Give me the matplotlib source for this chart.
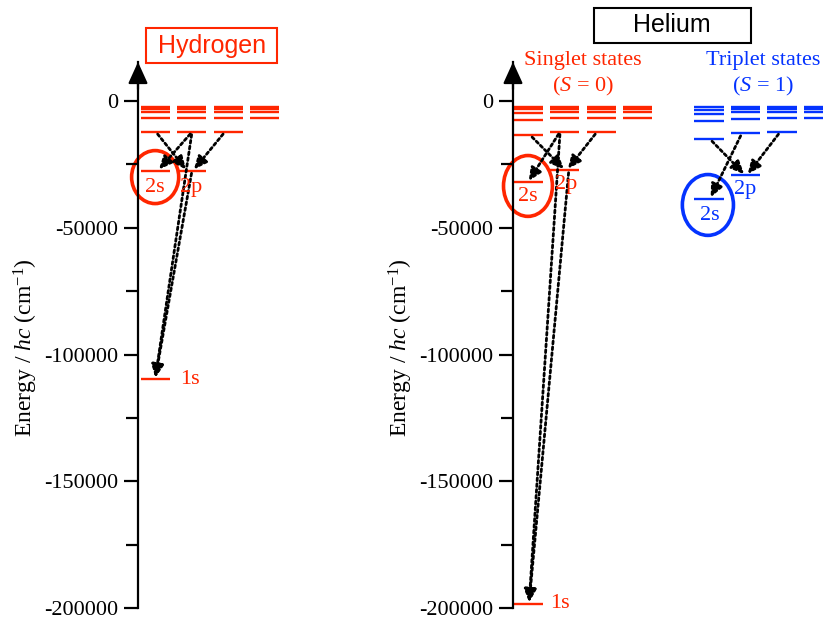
import numpy as np
import matplotlib
matplotlib.use('Agg')
import matplotlib.pyplot as plt
from matplotlib.patches import Ellipse, Rectangle

plt.rcParams['font.family'] = ['Liberation Serif', 'DejaVu Serif']
plt.rcParams['mathtext.fontset'] = 'custom'
plt.rcParams['mathtext.rm'] = 'Liberation Serif'
plt.rcParams['mathtext.it'] = 'Liberation Serif:italic'
plt.rcParams['axes.unicode_minus'] = False

RED = '#ff2600'
BLUE = '#0433ff'

# energy levels (cm^-1), one list per column s, p, d, f
h_s = [-109678, -27420, -12186, -6855, -4387, -3047, -2238]
h_p = [-27420, -12186, -6855, -4387, -3047, -2238]
h_d = [-12186, -6855, -4387, -3047, -2238]
h_f = [-6855, -4387, -3047, -2238]

sing_s = [-198311, -32033, -13446, -7370, -4647, -3196, -2328]
sing_p = [-27176, -12101, -6818, -4368, -3036, -2232]
sing_d = [-12206, -6864, -4392, -3051, -2241]
sing_f = [-6863, -4393, -3050, -2240]

trip_s = [-38455, -15074, -8013, -4964, -3375, -2442]
trip_p = [-29224, -12746, -7094, -4510, -3118, -2276]
trip_d = [-12209, -6866, -4394, -3052, -2242]
trip_f = [-6863, -4393, -3050, -2241]

yticks = [0, -50000, -100000, -150000, -200000]
ytick_labels = ['0', '-50000', '-100000', '-150000', '-200000']

W, H = 823, 619
fig = plt.figure(figsize=(W / 100, H / 100), dpi=100)

unit = 36.5  # px per column step
ylo, yhi = -200000, 15400
bottom = (H - 608) / H
height = (608 - 62) / H

axH = fig.add_axes([138 / W, bottom, 4.2 * unit / W, height])
axH.set_xlim(0, 4.2)
axHe = fig.add_axes([513 / W, bottom, (W - 513) / W, height])
axHe.set_xlim(0, (W - 513) / unit)

for ax in (axH, axHe):
    ax.set_ylim(ylo, yhi)
    for s in ['top', 'right', 'bottom']:
        ax.spines[s].set_visible(False)
    ax.spines['left'].set_linewidth(1.6)
    ax.set_xticks([])
    ax.set_yticks(yticks)
    ax.set_yticklabels(ytick_labels)
    ax.set_yticks([-25000, -75000, -125000, -175000], minor=True)
    ax.tick_params(axis='y', which='major', length=10, width=1.6, pad=4, labelsize=16)
    ax.tick_params(axis='y', which='minor', length=9, width=1.6)
    ax.patch.set_alpha(0)
    ax.annotate('', xy=(0, 1.0), xytext=(0, 0.95), xycoords='axes fraction',
                arrowprops=dict(arrowstyle='-|>,head_length=0.55,head_width=0.25',
                                color='k', lw=1.6, mutation_scale=24,
                                shrinkA=0, shrinkB=0))


def draw_levels(ax, cols, start, color):
    for k, col in enumerate(cols):
        x0 = start + k
        ax.hlines(col, x0, x0 + 0.8, colors=color, lw=1.7, clip_on=False)


def arrow(ax, x0, e0, x1, e1):
    ax.annotate('', xy=(x1, e1), xytext=(x0, e0),
                arrowprops=dict(arrowstyle='-|>,head_length=0.7,head_width=0.32',
                                linestyle=(0, (1.0, 1.1)), lw=2.0, color='k',
                                shrinkA=2, shrinkB=1, mutation_scale=11))


hs = 0.07
draw_levels(axH, [h_s, h_p, h_d, h_f], hs, RED)
arrow(axH, hs + 0.42, h_s[2], hs + 1.27, h_p[0])
arrow(axH, hs + 1.41, h_p[1], hs + 0.48, h_s[1])
arrow(axH, hs + 2.31, h_d[0], hs + 1.44, h_p[0])
arrow(axH, hs + 1.41, h_p[1], hs + 0.40, h_s[0])
arrow(axH, hs + 1.41, h_p[0], hs + 0.40, h_s[0])
axH.add_patch(Ellipse((0.47, -30000), 1.29, 20900, fill=False, ec=RED, lw=2.6, clip_on=False))
axH.annotate('2s', xy=(0.47, h_s[1]), xytext=(0, -12.5), textcoords='offset points',
             ha='center', va='center', color=RED, fontsize=16)
axH.annotate('2p', xy=(1.45, h_p[0]), xytext=(0, -12.5), textcoords='offset points',
             ha='center', va='center', color=RED, fontsize=16)
axH.text(1.15, h_s[0], '1s', ha='left', va='center', color=RED, fontsize=16)

ss = 0.02
draw_levels(axHe, [sing_s, sing_p, sing_d, sing_f], ss, RED)
arrow(axHe, ss + 0.45, sing_s[2], ss + 1.40, sing_p[0])
arrow(axHe, ss + 1.27, sing_p[1], ss + 0.39, sing_s[1])
arrow(axHe, ss + 2.28, sing_d[0], ss + 1.46, sing_p[0])
arrow(axHe, ss + 1.27, sing_p[1], ss + 0.42, sing_s[0])
arrow(axHe, ss + 1.51, sing_p[0], ss + 0.42, sing_s[0])
axHe.add_patch(Ellipse((0.41, -33500), 1.34, 24000, fill=False, ec=RED, lw=2.6, clip_on=False))
axHe.annotate('2s', xy=(0.41, sing_s[1]), xytext=(0, -10), textcoords='offset points',
              ha='center', va='center', color=RED, fontsize=16)
axHe.annotate('2p', xy=(1.45, sing_p[0]), xytext=(0, -10.5), textcoords='offset points',
              ha='center', va='center', color=RED, fontsize=16)
axHe.text(1.01, sing_s[0], '1s', ha='left', va='center', color=RED, fontsize=16)

ts = 4.97
draw_levels(axHe, [trip_s, trip_p, trip_d, trip_f], ts, BLUE)
arrow(axHe, ts + 0.43, trip_s[1], ts + 1.39, trip_p[0])
arrow(axHe, ts + 1.30, trip_p[1], ts + 0.43, trip_s[0])
arrow(axHe, ts + 2.35, trip_d[0], ts + 1.44, trip_p[0])
axHe.add_patch(Ellipse((5.34, -41000), 1.40, 24000, fill=False, ec=BLUE, lw=2.6, clip_on=False))
axHe.annotate('2s', xy=(5.40, trip_s[0]), xytext=(0, -12.5), textcoords='offset points',
              ha='center', va='center', color=BLUE, fontsize=16)
axHe.annotate('2p', xy=(6.36, trip_p[0]), xytext=(0, -10.5), textcoords='offset points',
              ha='center', va='center', color=BLUE, fontsize=16)

# y labels
ylab = 'Energy / $hc$ (cm$^{-1}$)'
fig.text(26 / W, 1 - 348 / H, ylab, rotation=90, ha='center', va='center', fontsize=17)
fig.text(401 / W, 1 - 348 / H, ylab, rotation=90, ha='center', va='center', fontsize=17)

# titles in boxes
fig.patches.append(Rectangle((146 / W, 1 - 63 / H), 131 / W, 35 / H, fill=False,
                             ec=RED, lw=1.5, transform=fig.transFigure))
fig.text(212 / W, 1 - 46 / H, 'Hydrogen', ha='center', va='center', color=RED,
         fontsize=18, family='Liberation Sans')
fig.patches.append(Rectangle((594 / W, 1 - 43 / H), 157 / W, 35 / H, fill=False,
                             ec='k', lw=1.5, transform=fig.transFigure))
fig.text(672 / W, 1 - 25 / H, 'Helium', ha='center', va='center', color='k',
         fontsize=18, family='Liberation Sans')

fig.text(583 / W, 1 - 60 / H, 'Singlet states', ha='center', va='center', color=RED, fontsize=16)
fig.text(583 / W, 1 - 86 / H, '($S$ = 0)', ha='center', va='center', color=RED, fontsize=16)
fig.text(763 / W, 1 - 60 / H, 'Triplet states', ha='center', va='center', color=BLUE, fontsize=16)
fig.text(763 / W, 1 - 86 / H, '($S$ = 1)', ha='center', va='center', color=BLUE, fontsize=16)

fig.savefig('out.png', dpi=100)
